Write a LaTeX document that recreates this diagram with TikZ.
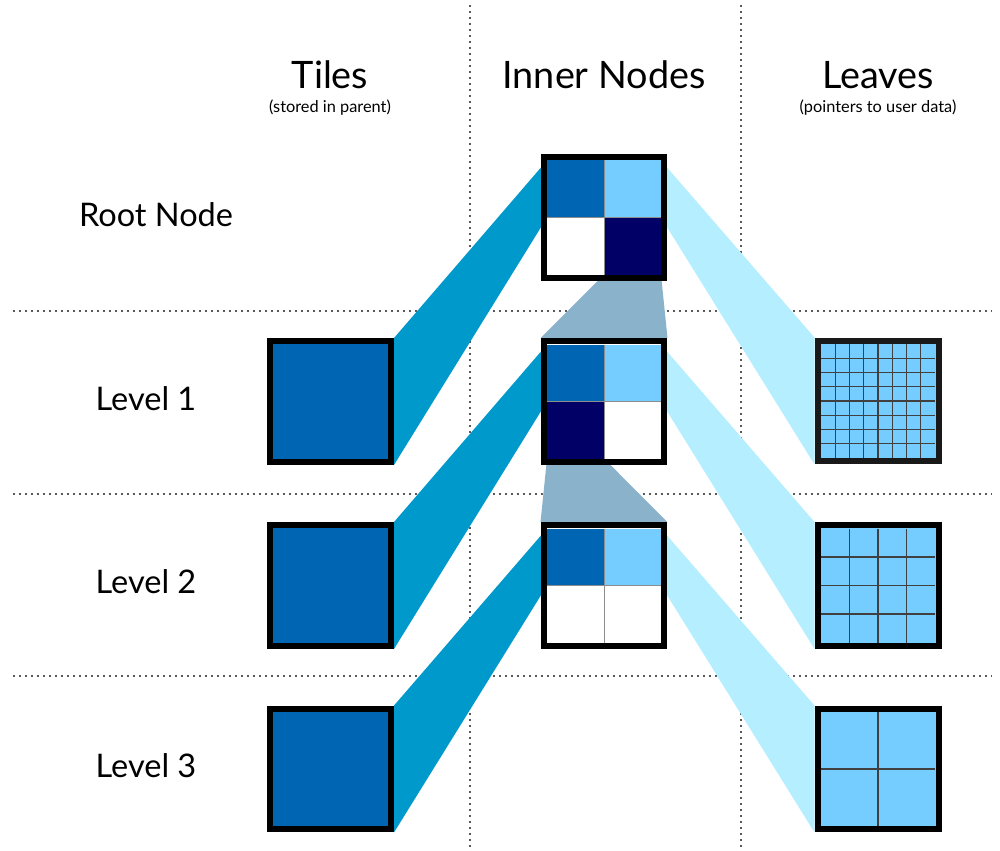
\documentclass[tikz,border=0pt]{standalone}
\usepackage{fontspec}
\setmainfont{Lato}
\usetikzlibrary{positioning, calc, backgrounds}
\definecolor{tileBlue}{HTML}{0066B3}
\definecolor{bandTeal}{HTML}{0099CC}
\definecolor{cellLight}{HTML}{75CCFF}
\definecolor{cellNavy}{HTML}{000066}
\definecolor{bandLight}{HTML}{B5EEFF}
\definecolor{bandGrey}{HTML}{8AB3CB}

\begin{document}
\begin{tikzpicture}[x=0.02cm, y=-0.02cm,
    box/.style={rectangle, draw=black, line width=0.12cm, minimum size=2.42cm, inner sep=0pt},
    head/.style={font=\fontsize{21.5}{26}\selectfont, inner sep=0pt},
    sub/.style={font=\fontsize{9.3}{11}\selectfont, inner sep=0pt},
    rowlabel/.style={font=\fontsize{18.5}{22}\selectfont, inner sep=0pt},
    sep/.style={line width=0.035cm, black!65, dash pattern=on 0.035cm off 0.085cm},
    divider/.style={line width=0.02cm, black!45},
    gridline/.style={line width=0.022cm, black!75}
  ]
  \useasboundingbox (0,0) rectangle (1000,851);

  % column and row titles
  \node[head] (tilesT) at (330,75) {Tiles};
  \node[sub] (tilesS) at (330,108) {(stored in parent)};
  \node[head] (innerT) at (604,75) {Inner Nodes};
  \node[head] (leavesT) at (878,75) {Leaves};
  \node[sub] (leavesS) at (878,108) {(pointers to user data)};

  \node[rowlabel] (rootL) at (156,215) {Root Node};
  \node[rowlabel] (lvl1L) at (146,399) {Level 1};
  \node[rowlabel] (lvl2L) at (146,582) {Level 2};
  \node[rowlabel] (lvl3L) at (146,766) {Level 3};

  % tiles
  \node[box, fill=tileBlue] (tile1) at (330.5,401.5) {};
  \node[box, fill=tileBlue] (tile2) at (330.5,585.5) {};
  \node[box, fill=tileBlue] (tile3) at (330.5,769) {};

  % inner nodes
  \node[box, fill=white] (root) at (604,217.5) {};
  \node[box, fill=white] (inner1) at (604,401.5) {};
  \node[box, fill=white] (inner2) at (604,585.5) {};

  \foreach \n/\a/\b/\c/\d in {root/tileBlue/cellLight/white/cellNavy,
      inner1/tileBlue/cellLight/cellNavy/white, inner2/tileBlue/cellLight/white/white} {
    \fill[\a] ($(\n.center)+(-57,-57)$) rectangle (\n.center);
    \fill[\b] ($(\n.center)+(0,-57)$) rectangle ($(\n.center)+(57,0)$);
    \fill[\c] ($(\n.center)+(-57,0)$) rectangle ($(\n.center)+(0,57)$);
    \fill[\d] (\n.center) rectangle ($(\n.center)+(57,57)$);
    \draw[divider] ($(\n.center)+(0,-57)$) -- ($(\n.center)+(0,57)$);
    \draw[divider] ($(\n.center)+(-57,0)$) -- ($(\n.center)+(57,0)$);
  }

  % leaves
  \node[box, draw=black!90, fill=cellLight] (leaf1) at (878,401) {};
  \node[box, fill=cellLight] (leaf2) at (878,585.5) {};
  \node[box, fill=cellLight] (leaf3) at (878,769) {};

  \foreach \n/\k [evaluate=\k as \m using int(\k-1)] in {leaf1/8, leaf2/4, leaf3/2} {
    \pgfmathsetmacro{\s}{114/\k}
    \foreach \i in {1,...,\m} {
      \draw[gridline] ($(\n.center)+({-57+\i*\s},-57)$) -- ($(\n.center)+({-57+\i*\s},57)$);
      \draw[gridline] ($(\n.center)+(-57,{-57+\i*\s})$) -- ($(\n.center)+(57,{-57+\i*\s})$);
    }
  }

  \begin{scope}[on background layer]
    % separators
    \foreach \y in {311,494,676}
      \draw[sep] (13,\y) -- (992,\y);
    \foreach \x in {470,741}
      \draw[sep] (\x,5) -- (\x,851);

    % tile -> parent cell
    \foreach \t/\n in {tile1/root, tile2/inner1, tile3/inner2}
      \fill[bandTeal] (\t.north east) -- ($(\n.center)+(-57,-57)$) -- ($(\n.center)+(-57,0)$) -- (\t.south east) -- cycle;

    % parent cell -> leaf
    \foreach \n/\l in {root/leaf1, inner1/leaf2, inner2/leaf3}
      \fill[bandLight] ($(\n.center)+(57,-57)$) -- (\l.north west) -- (\l.south west) -- ($(\n.center)+(57,0)$) -- cycle;

    % parent cell -> child node
    \fill[bandGrey] ($(root.center)+(0,57)$) -- ($(root.center)+(57,57)$) -- (inner1.north east) -- (inner1.north west) -- cycle;
    \fill[bandGrey] ($(inner1.center)+(-57,57)$) -- ($(inner1.center)+(0,57)$) -- (inner2.north east) -- (inner2.north west) -- cycle;
  \end{scope}
\end{tikzpicture}
\end{document}
